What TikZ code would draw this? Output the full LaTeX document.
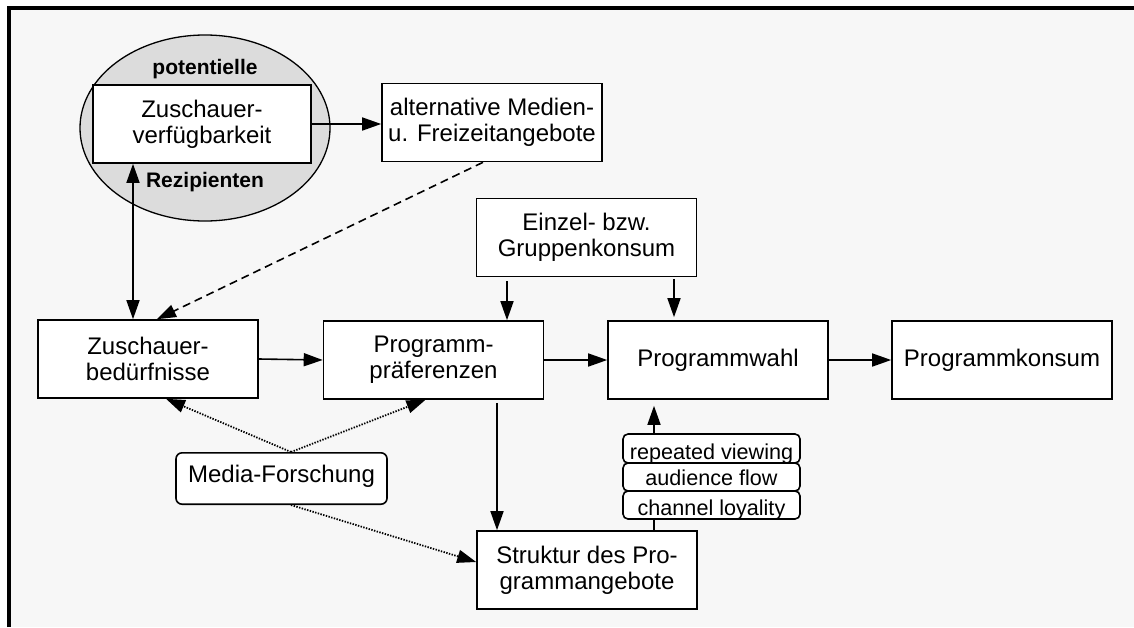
\documentclass[tikz,border=0pt]{standalone}
\usepackage{fontspec}
\setmainfont{Liberation Sans}
\usetikzlibrary{arrows.meta,shapes.geometric}
\definecolor{panel}{HTML}{F7F7F7}
\definecolor{ovalgray}{HTML}{DCDCDC}
\newcommand\mainfs{\fontsize{12}{13}\selectfont}
\newcommand\smallfs{\fontsize{10.8}{12}\selectfont}
\newcommand\boldfs{\fontsize{10.5}{12}\selectfont\bfseries}

\begin{document}
\begin{tikzpicture}[x=0.5pt,y=-0.5pt,
  box/.style={draw, line width=0.8pt, fill=white, minimum width=110pt,
    minimum height=39pt, inner sep=2pt, align=center, font=\mainfs},
  oval/.style={draw, line width=0.65pt, fill=ovalgray, ellipse,
    minimum width=125pt, minimum height=93pt, inner sep=0pt},
  tag/.style={font=\boldfs, inner sep=1pt},
  roundbox/.style={draw, line width=0.8pt, fill=white, rounded corners=3pt,
    minimum width=105.5pt, minimum height=25.5pt, inner xsep=2pt,
    inner ysep=6pt, text depth=5pt, font=\mainfs},
  stackbox/.style={draw, line width=0.8pt, fill=white, rounded corners=2.5pt,
    minimum width=88.5pt, minimum height=14pt, inner sep=0pt},
  tip/.style={Triangle[length=9.5pt,width=6.5pt]},
  conn/.style={line width=0.8pt, -{Triangle[length=9.5pt,width=6.5pt]}},
  dualconn/.style={line width=0.8pt, {Triangle[length=9.5pt,width=6.5pt]}-{Triangle[length=9.5pt,width=6.5pt]}},
  dashconn/.style={conn, dash pattern=on 4pt off 2.5pt},
  dotconn/.style={conn, line width=0.9pt, dash pattern=on 0.7pt off 0.7pt}
]
% page and panel
\useasboundingbox (0,0) rectangle (1134,627);
\fill[white] (0,0) rectangle (1134,627);
\fill[panel] (9,8) rectangle (1134,627);
\draw[line width=2pt] (9,627) -- (9,8) -- (1134,8);

% potential audience
\node[oval] (pool) at (205,128) {};
\node[tag] (pot) at (205,69) {potentielle};
\node[tag] (rez) at (205,182) {Rezipienten};
\node[box, minimum width=109pt] (avail) at (202,124) {Zuschauer-\\verfügbarkeit};

% main boxes
\node[box] (alt) at (492,122.5) {alternative Medien-\\u. Freizeitangebote};
\node[box] (einzel) at (586.5,237.5) {Einzel- bzw.\\Gruppenkonsum};
\node[box] (need) at (148,359) {Zuschauer-\\bedürfnisse};
\node[box] (pref) at (433.5,360) {Programm-\\präferenzen};
\node[box] (wahl) at (718,360) {Programmwahl};
\node[box] (konsum) at (1002,360) {Programmkonsum};
\node[box] (struk) at (587,570) {Struktur des Pro-\\grammangebote};
\node[roundbox] (media) at (281.5,478.5) {Media-Forschung};

% connectors
\draw[conn] (avail.east) -- (alt.west |- avail.east);
\draw[dualconn] ([xshift=-34.5pt]avail.south) -- ([xshift=-34.5pt]avail.south |- need.north);
\draw[dashconn] ([xshift=-4.5pt]alt.south) -- ([xshift=4.5pt]need.north);
\draw[conn, shorten <=2pt] ([xshift=-39.75pt]einzel.south) -- ([xshift=-39.75pt]einzel.south |- pref.north);
\draw[conn, shorten <=1pt, shorten >=1.5pt] ([xshift=43.75pt]einzel.south) -- ([xshift=43.75pt]einzel.south |- wahl.north);
\draw[conn] (need.east) -- (pref.west);
\draw[conn] (pref.east) -- (wahl.west);
\draw[conn] (wahl.east) -- (konsum.west);
\draw[conn, shorten <=1.5pt] ([xshift=31.75pt]pref.south) -- ([xshift=31.75pt]pref.south |- struk.north);
\draw[conn, shorten >=3pt] ([xshift=33.5pt]struk.north) -- ([xshift=33.5pt]struk.north |- wahl.south);
\draw[dotconn] ([xshift=4.75pt]media.north) -- ([xshift=9pt]need.south);
\draw[dotconn] ([xshift=4.75pt]media.north) -- ([xshift=-4pt]pref.south);
\draw[dotconn] ([xshift=4.75pt]media.south) -- ([yshift=4pt]struk.west);

% viewing patterns stacked on the supply link; descenders run under the frame
\node[stackbox, minimum height=14.5pt,
  path picture={\node[anchor=base, font=\smallfs, inner sep=0pt]
    at ([yshift=1.9pt]path picture bounding box.south) {repeated viewing};}]
  (rep) at (711.5,448.5) {};
\node[stackbox,
  path picture={\node[anchor=base, font=\smallfs, inner sep=0pt]
    at ([yshift=2.8pt]path picture bounding box.south) {audience flow};}]
  (flow) at (711.5,477) {};
\node[stackbox,
  path picture={\node[anchor=base, font=\smallfs, inner sep=0pt]
    at ([yshift=1.9pt]path picture bounding box.south) {channel loyality};}]
  (loyal) at (711.5,505) {};
\end{tikzpicture}
\end{document}
